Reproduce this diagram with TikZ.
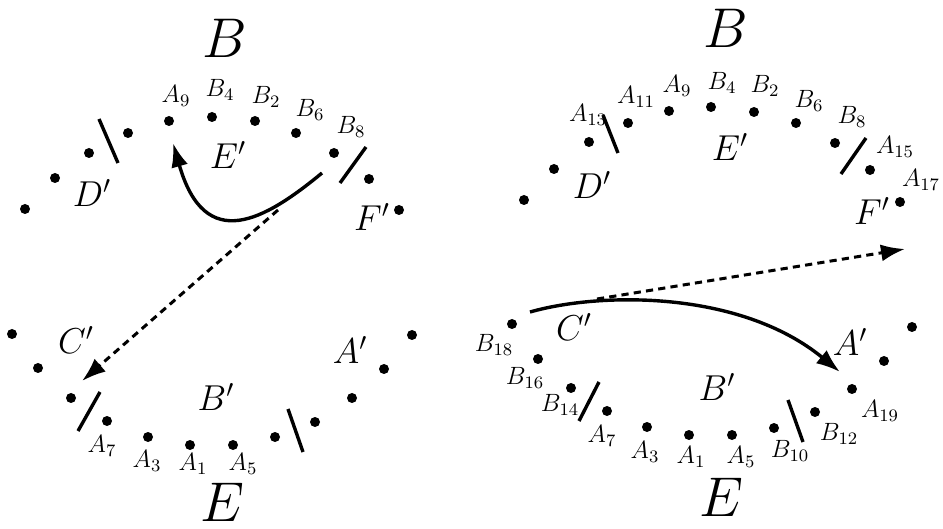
\RequirePackage{fix-cm}
\documentclass[tikz,border=0pt]{standalone}
\usepackage{tikz}
\usetikzlibrary{arrows.meta}
\definecolor{ink}{HTML}{000000}
\tikzset{
  >={Latex[length=12pt,width=8.5pt]},
  pt/.style={circle,fill=ink,inner sep=0pt,minimum size=5pt},
  lab/.style={inner sep=0pt,font=\fontsize{12.5}{14}\selectfont},
  reg/.style={inner sep=0pt,font=\fontsize{18}{21}\selectfont},
  big/.style={inner sep=0pt,font=\fontsize{28}{31}\selectfont},
  cut/.style={line width=1.7pt,draw=ink},
  move/.style={->,line width=1.7pt,draw=ink},
  jump/.style={->,line width=1.5pt,draw=ink,dash pattern=on 3.6pt off 2.6pt}
}

\begin{document}
\begin{tikzpicture}[x=0.5pt,y=-0.5pt]
  \useasboundingbox (0,0) rectangle (943,529);

  % left panel, upper arc
  \foreach \x/\y [count=\i] in {25/209,55/178,89/153,128/133,169/121,212/117,
      255/121,296/133,334/153,369/179,399/210}
    \node[pt] (lt\i) at (\x,\y) {};
  % left panel, lower arc
  \foreach \x/\y [count=\i] in {12/334,38/368,71/398,107/421,148/437,190/445,
      233/445,275/437,315/422,352/398,384/369,412/335}
    \node[pt] (lb\i) at (\x,\y) {};

  \draw[cut] (99,119)--(118,163);
  \draw[cut] (366,147)--(340,183);
  \draw[cut] (100,392)--(78,431);
  \draw[cut] (288,409)--(303,452);

  \node[big] (lB) at (225,38) {$B$};
  \node[big] (lE) at (222,502) {$E$};
  \node[reg] (lEp) at (228,155) {$E'$};
  \node[reg] (lDp) at (92,193) {$D'$};
  \node[reg] (lFp) at (372,217) {$F'$};
  \node[reg] (lCp) at (76,340) {$C'$};
  \node[reg] (lAp) at (350,350) {$A'$};
  \node[reg] (lBp) at (216,397) {$B'$};

  \node[lab] at (176,96) {$A_9$};
  \node[lab] at (220,90) {$B_4$};
  \node[lab] at (266,97) {$B_2$};
  \node[lab] at (310,110) {$B_6$};
  \node[lab] at (351,127) {$B_8$};
  \node[lab] at (102,446) {$A_7$};
  \node[lab] at (147,461) {$A_3$};
  \node[lab] at (193,464) {$A_1$};
  \node[lab] at (243,464) {$A_5$};

  \coordinate (lgo) at (322,173);
  \coordinate (lto) at (173,143);
  \coordinate (ldash) at (278,210);
  \coordinate (lland) at (82,381);
  \draw[move] (lgo) .. controls (265,220) and (205,255) .. (lto);
  \draw[jump] (ldash)--(lland);

  % right panel, upper arc
  \foreach \x/\y [count=\i] in {524/200,554/169,589/142,628/123,669/111,711/107,
      754/112,796/123,835/143,870/170,900/202}
    \node[pt] (rt\i) at (\x,\y) {};
  % right panel, lower arc
  \foreach \x/\y [count=\i] in {512/324,538/359,571/388,607/411,647/427,689/435,
      732/435,774/428,815/412,852/389,884/361,912/327}
    \node[pt] (rb\i) at (\x,\y) {};

  \draw[cut] (603,115)--(618,153);
  \draw[cut] (866,138)--(841,174);
  \draw[cut] (599,382)--(579,421);
  \draw[cut] (788,400)--(803,442);

  \node[big] (rB) at (726,28) {$B$};
  \node[big] (rE) at (721,497) {$E$};
  \node[reg] (rEp) at (730,147) {$E'$};
  \node[reg] (rDp) at (592,185) {$D'$};
  \node[reg] (rFp) at (872,211) {$F'$};
  \node[reg] (rCp) at (574,327) {$C'$};
  \node[reg] (rAp) at (850,342) {$A'$};
  \node[reg] (rBp) at (717,387) {$B'$};

  \node[lab] at (588,115) {$A_{13}$};
  \node[lab] at (636,97) {$A_{11}$};
  \node[lab] at (677,86) {$A_9$};
  \node[lab] at (722,83) {$B_4$};
  \node[lab] at (765,86) {$B_2$};
  \node[lab] at (809,101) {$B_6$};
  \node[lab] at (852,117) {$B_8$};
  \node[lab] at (895,147) {$A_{15}$};
  \node[lab] at (921,180) {$A_{17}$};
  \node[lab] at (494,345) {$B_{18}$};
  \node[lab] at (525,378) {$B_{16}$};
  \node[lab] at (560,405) {$B_{14}$};
  \node[lab] at (602,436) {$A_7$};
  \node[lab] at (645,452) {$A_3$};
  \node[lab] at (691,457) {$A_1$};
  \node[lab] at (741,457) {$A_5$};
  \node[lab] at (790,451) {$B_{10}$};
  \node[lab] at (839,434) {$B_{12}$};
  \node[lab] at (880,411) {$A_{19}$};

  \coordinate (rgo) at (530,312);
  \coordinate (rto) at (840,372);
  \coordinate (rdash) at (597,299);
  \coordinate (rland) at (905,249);
  \draw[move] (rgo) .. controls (600,292) and (740,290) .. (rto);
  \draw[jump] (rdash)--(rland);
\end{tikzpicture}
\end{document}
